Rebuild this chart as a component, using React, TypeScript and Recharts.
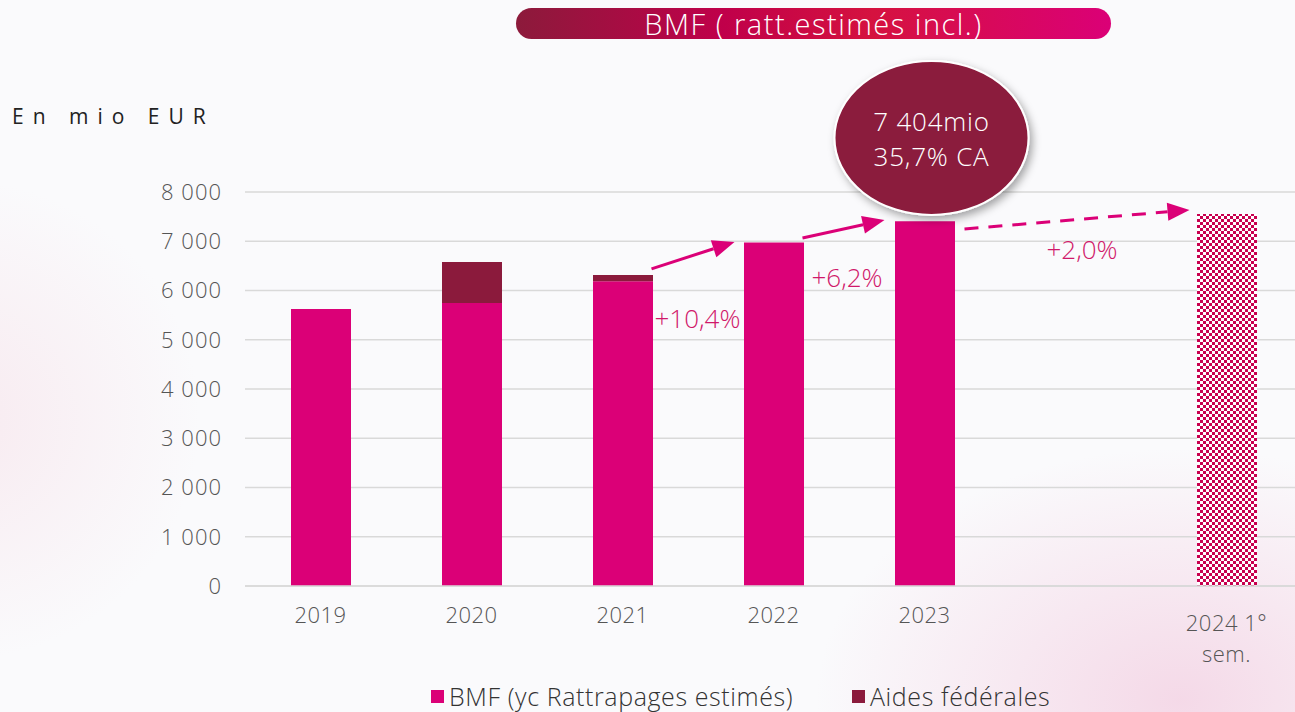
import React from 'react';
import {
  ComposedChart,
  Bar,
  XAxis,
  YAxis,
  CartesianGrid,
  ReferenceLine,
  ReferenceDot,
  Cell,
} from 'recharts';

const categories = ['2019', '2020', '2021', '2022', '2023', '', '2024 1°\nsem.'];
const bmfValues: (number | null)[] = [5625, 5745, 6190, 6975, 7404, null, 7553];
const aidesValues: (number | null)[] = [null, 835, 125, null, null, null, null];
const yTicks = [0, 1000, 2000, 3000, 4000, 5000, 6000, 7000, 8000];
const seriesNames = ['BMF (yc Rattrapages estimés)', 'Aides fédérales'];

const arrows = [
  { from: '2021', fromY: 6440, to: '2022', toY: 6985, dx1: 29, dx2: -39, dashed: false },
  { from: '2022', fromY: 7066, to: '2023', toY: 7431, dx1: 29, dx2: -40, dashed: false },
  { from: '2023', fromY: 7249, to: '2024 1°\nsem.', toY: 7635, dx1: 40, dx2: -37, dashed: true },
];

const growthLabels = [
  { x: '2021', y: 5442, dx: 32, text: '+10,4%' },
  { x: '2022', y: 6274, dx: 38, text: '+6,2%' },
  { x: '2023', y: 6843, dx: 122, text: '+2,0%' },
];

const bubble = { x: '2023', y: 9097, dx: 7, line1: '7 404mio', line2: '35,7% CA' };

const data = categories.map((c, i) => ({ year: c, bmf: bmfValues[i], aides: aidesValues[i] }));

const MAGENTA = '#DB0077';
const WINE = '#8B1A3C';
const FONT = '"Open Sans", "Noto Sans", sans-serif';

const XTick = (props: any) => {
  const { x, y, payload } = props;
  const lines = String(payload.value).split('\n');
  const multi = lines.length > 1;
  return (
    <g>
      {lines.map((l, i) => (
        <text
          key={i}
          x={x}
          y={y + (multi ? 28 : 20) + i * 31}
          textAnchor="middle"
          dominantBaseline="central"
          fill="#555"
          fontSize={22}
          fontWeight={300}
          fontFamily={FONT}
          letterSpacing={0.5}
        >
          {l}
        </text>
      ))}
    </g>
  );
};

const formatY = (v: number) => (v >= 1000 ? `${Math.floor(v / 1000)} ${String(v % 1000).padStart(3, '0')}` : String(v));

const makeArrowShape = (a: (typeof arrows)[number]) => (p: any) => {
  const x1 = p.x1 + a.dx1;
  const x2 = p.x2 + a.dx2;
  const y1 = p.y1;
  const y2 = p.y2;
  const ang = Math.atan2(y2 - y1, x2 - x1);
  const head = 22;
  const hw = 9;
  const bx = x2 - head * Math.cos(ang);
  const by = y2 - head * Math.sin(ang);
  const px = -Math.sin(ang) * hw;
  const py = Math.cos(ang) * hw;
  return (
    <g>
      <line
        x1={x1}
        y1={y1}
        x2={bx}
        y2={by}
        stroke={MAGENTA}
        strokeWidth={3}
        strokeDasharray={a.dashed ? '14 10' : undefined}
      />
      <polygon points={`${x2},${y2} ${bx + px},${by + py} ${bx - px},${by - py}`} fill={MAGENTA} />
    </g>
  );
};

const legendItem = (left: number, color: string, label: string) => (
  <div
    style={{
      position: 'absolute',
      left,
      top: 682,
      display: 'flex',
      alignItems: 'center',
      fontSize: 25,
      fontWeight: 300,
      letterSpacing: 0.6,
      color: '#333',
      lineHeight: '28px',
      whiteSpace: 'nowrap',
    }}
  >
    <span style={{ width: 13, height: 13, background: color, display: 'inline-block', marginRight: 5 }} />
    {label}
  </div>
);

export default function App() {
  return (
    <div
      style={{
        position: 'absolute',
        left: 0,
        top: 0,
        width: 1295,
        height: 712,
        overflow: 'hidden',
        background:
          'radial-gradient(ellipse 520px 360px at 1180px 700px, rgba(240,190,215,0.55), rgba(252,252,254,0) 70%), radial-gradient(circle 300px at -40px 420px, rgba(245,215,225,0.45), rgba(252,252,254,0) 80%), #fafafc',
        fontFamily: FONT,
      }}
    >
      <svg width={0} height={0} style={{ position: 'absolute' }}>
        <defs>
          <pattern id="checker" patternUnits="userSpaceOnUse" width={6} height={6}>
            <rect x={0} y={0} width={6} height={6} fill="#ffffff" />
            <rect x={0} y={0} width={3} height={3} fill="#C8004F" />
            <rect x={3} y={3} width={3} height={3} fill="#C8004F" />
          </pattern>
          <filter id="bubbleShadow" x="-30%" y="-30%" width="160%" height="160%">
            <feDropShadow dx={3} dy={4} stdDeviation={4} floodColor="#000" floodOpacity={0.35} />
          </filter>
        </defs>
      </svg>

      <div
        style={{
          position: 'absolute',
          left: 516,
          top: 8,
          width: 595,
          height: 31,
          borderRadius: 16,
          background: 'linear-gradient(90deg, #8C1A3B 0%, #C0004A 35%, #D5123F 60%, #DB0077 100%)',
          color: '#fff',
          fontSize: 29,
          fontWeight: 300,
          letterSpacing: 1.5,
          lineHeight: '31px',
          textAlign: 'center',
        }}
      >
        BMF ( ratt.estimés incl.)
      </div>

      <div
        style={{
          position: 'absolute',
          left: 12,
          top: 102,
          fontSize: 21,
          letterSpacing: 9,
          color: '#222',
          fontWeight: 400,
        }}
      >
        En mio EUR
      </div>

      <div style={{ position: 'absolute', left: 0, top: 0 }}>
        <ComposedChart
          width={1302}
          height={712}
          data={data}
          margin={{ top: 192, right: 0, left: 165, bottom: 96 }}
          barSize={60}
        >
          <CartesianGrid vertical={false} stroke="#d9d9d9" strokeWidth={1.5} />
          <XAxis
            dataKey="year"
            height={30}
            axisLine={{ stroke: '#d9d9d9', strokeWidth: 1.5 }}
            tickLine={false}
            tick={<XTick />}
            interval={0}
          />
          <YAxis
            width={80}
            domain={[0, 8000]}
            ticks={yTicks}
            tickFormatter={formatY}
            axisLine={false}
            tickLine={false}
            tickMargin={17}
            tick={{ fill: '#555', fontSize: 22, fontWeight: 300, fontFamily: FONT, letterSpacing: 1 }}
          />
          <Bar dataKey="bmf" name={seriesNames[0]} stackId="a" fill={MAGENTA} isAnimationActive={false}>
            {data.map((d, i) => (
              <Cell key={i} fill={d.year.startsWith('2024') ? 'url(#checker)' : MAGENTA} />
            ))}
          </Bar>
          <Bar dataKey="aides" name={seriesNames[1]} stackId="a" fill={WINE} isAnimationActive={false} />

          {arrows.map((a, i) => (
            <ReferenceLine
              key={`ar${i}`}
              segment={[
                { x: a.from, y: a.fromY },
                { x: a.to, y: a.toY },
              ]}
              shape={makeArrowShape(a)}
              ifOverflow="visible"
            />
          ))}

          {growthLabels.map((g, i) => (
            <ReferenceDot
              key={`gl${i}`}
              x={g.x}
              y={g.y}
              ifOverflow="visible"
              shape={(p: any) => (
                <text
                  x={p.cx + g.dx}
                  y={p.cy}
                  dominantBaseline="central"
                  fill="#D0186A"
                  fontSize={26}
                  fontWeight={300}
                  fontFamily={FONT}
                >
                  {g.text}
                </text>
              )}
            />
          ))}

          <ReferenceDot
            x={bubble.x}
            y={bubble.y}
            ifOverflow="visible"
            shape={(p: any) => (
              <g>
                <ellipse
                  cx={p.cx + bubble.dx}
                  cy={p.cy}
                  rx={97}
                  ry={77}
                  fill={WINE}
                  stroke="#fff"
                  strokeWidth={2}
                  filter="url(#bubbleShadow)"
                />
                <text
                  x={p.cx + bubble.dx}
                  y={p.cy - 17}
                  textAnchor="middle"
                  dominantBaseline="central"
                  fill="#fff"
                  fontSize={26}
                  fontWeight={300}
                  fontFamily={FONT}
                  letterSpacing={0.8}
                >
                  {bubble.line1}
                </text>
                <text
                  x={p.cx + bubble.dx}
                  y={p.cy + 18}
                  textAnchor="middle"
                  dominantBaseline="central"
                  fill="#fff"
                  fontSize={26}
                  fontWeight={300}
                  fontFamily={FONT}
                  letterSpacing={0.8}
                >
                  {bubble.line2}
                </text>
              </g>
            )}
          />
        </ComposedChart>
      </div>

      {legendItem(431, MAGENTA, seriesNames[0])}
      {legendItem(852, WINE, seriesNames[1])}
    </div>
  );
}
